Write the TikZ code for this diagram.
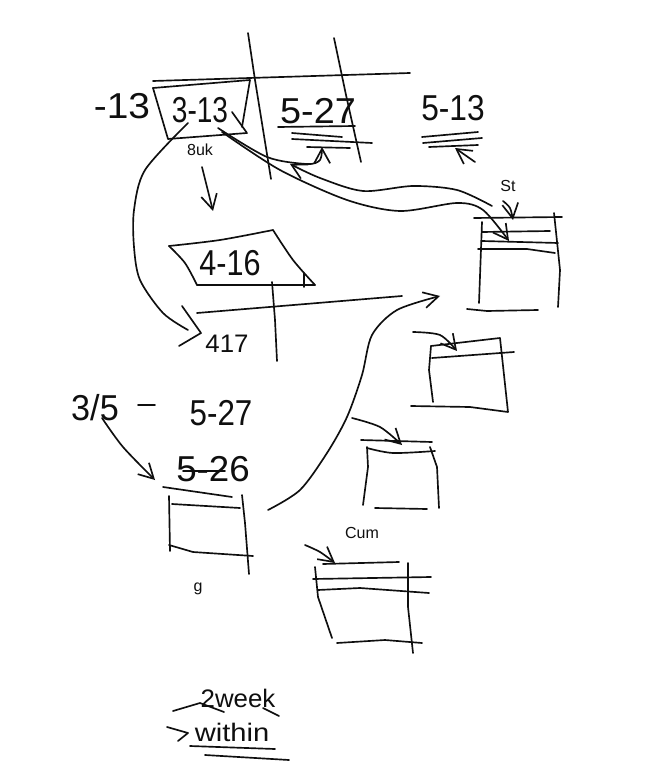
\documentclass[tikz,border=0pt]{standalone}
\usepackage{fontspec}
\setmainfont{Liberation Sans}
\usetikzlibrary{arrows.meta}
\definecolor{inkblack}{RGB}{15,15,15}
\begin{document}
\begin{tikzpicture}[x=0.75pt,y=-0.75pt,
  >={Straight Barb[length=11pt,width=12pt,line width=1.25pt]},
  pen/.style={inkblack,line width=1.25pt,line cap=round,line join=round},
  bigtext/.style={inkblack,font=\fontsize{27}{27}\selectfont,transform shape,inner sep=0pt},
  midtext/.style={inkblack,font=\fontsize{19}{19}\selectfont,transform shape,inner sep=0pt},
  smalltext/.style={inkblack,font=\fontsize{12}{12}\selectfont,inner sep=0pt}]
\useasboundingbox (0,0) rectangle (665,784);
% ends of the arrows
\coordinate (sunstart) at (188,123);
\coordinate (downstart) at (202,167);
\coordinate (downend) at (213,211);
\coordinate (firstend) at (322,147);
\coordinate (firststart) at (218,128);
\coordinate (secondend) at (509,241);
\coordinate (secondstart) at (222,132);
\coordinate (backend) at (290,164);
\coordinate (backstart) at (492,206);
\coordinate (stend) at (513,220);
\coordinate (stendstart) at (503,201);
\coordinate (lowend) at (475,162);
\coordinate (lowtip) at (455,148);
\coordinate (bendend) at (440,296);
\coordinate (bendstart) at (268,510);
\coordinate (wideend) at (201,333);
% top table
\draw[pen] (153,81) -- (410,73);
\draw[pen] (248,33) -- (255,80) -- (271,179);
\draw[pen] (334,38) -- (346,95) -- (361,162);
\node[bigtext,xscale=1.08] (minus) at (122,106) {-13};
\draw[pen] (153,88) -- (250,80) -- (242,127);
\draw[pen] (232,112) -- (247,133) -- (168,139) -- (153,88);
\node[bigtext,xscale=.78] (first) at (200,110) {3-13};
\node[smalltext] (sun) at (200,150) {8uk};
\node[bigtext,xscale=1.05] (second) at (318,111) {5-27};
\draw[pen] (278,127) -- (355,126);
\draw[pen] (292,133) -- (342,137);
\draw[pen] (292,139) -- (372,143);
\draw[pen] (307,147) -- (350,148);
\node[bigtext,xscale=.88] (third) at (453,108) {5-13};
\draw[pen] (422,137) -- (478,132);
\draw[pen] (423,143) -- (482,138);
\draw[pen] (429,147) -- (478,145);
\draw[pen,->] (lowend) -- (lowtip);
\draw[pen,->] plot[smooth] coordinates {(downstart) (207,187) (downend)};
\draw[pen,->] plot[smooth] coordinates {(firststart) (267,157) (307,164) (320,160) (firstend)};
\draw[pen,->] plot[smooth] coordinates {(secondstart) (280,170) (347,200) (400,211) (457,203) (483,210) (secondend)};
\draw[pen,->] plot[smooth] coordinates {(backstart) (457,190) (413,186) (363,191) (320,178) (backend)};
% right table
\node[smalltext] (st) at (508,186) {St};
\draw[pen,->] plot[smooth] coordinates {(stendstart) (510,208) (stend)};
\draw[pen] (474,218) -- (562,217);
\draw[pen] (482,222) -- (479,303);
\draw[pen] (554,213) -- (560,270) -- (558,307);
\draw[pen] (482,232) -- (550,231);
\draw[pen] (482,241) -- (558,243);
\draw[pen] (478,249) -- (527,249) -- (555,253);
\draw[pen] (467,309) -- (487,311) -- (538,310);
% middle box
\draw[pen] plot[smooth] coordinates {(169,246) (220,240) (273,230)};
\draw[pen] plot[smooth] coordinates {(273,230) (293,260) (315,285)};
\draw[pen] (315,285) -- (197,285);
\draw[pen] plot[smooth] coordinates {(197,285) (185,263) (169,246)};
\draw[pen] (304,273) -- (304,287);
\node[bigtext,xscale=.85] (fourth) at (230,263) {4-16};
\draw[pen] (197,313) -- (402,296);
\draw[pen] (272,282) -- (275,320) -- (277,361);
\node[midtext,xscale=1.02] (fifth) at (227,344) {417};
\draw[pen] plot[smooth] coordinates {(sunstart) (145,170) (134,210) (134,247) (140,280) (163,313) (188,330)};
\draw[pen] (182,306) -- (wideend) -- (179,346);
% tables on the right
\draw[pen,->] plot[smooth] coordinates {(bendstart) (300,490) (327,453) (347,417) (362,375) (372,335) (397,310) (bendend)};
\draw[pen] (431,346) -- (500,338) -- (508,412) -- (470,407) -- (411,406);
\draw[pen] (431,346) -- (429,370) -- (433,402);
\draw[pen] (432,358) -- (514,352);
\draw[pen,->] plot[smooth] coordinates {(413,332) (440,335) (457,351)};
\draw[pen] (361,440) -- (432,442);
\draw[pen] plot[smooth] coordinates {(367,448) (393,453) (435,451)};
\draw[pen] (367,447) -- (368,467) -- (363,505);
\draw[pen] (430,447) -- (437,467) -- (439,508);
\draw[pen] (375,508) -- (427,509);
\draw[pen,->] plot[smooth] coordinates {(352,418) (380,427) (402,445)};
\node[smalltext] (cum) at (362,533) {Cum};
\draw[pen,->] plot[smooth] coordinates {(305,545) (320,552) (335,563)};
\draw[pen] (323,564) -- (399,562);
\draw[pen] (313,579) -- (431,577);
\draw[pen] (318,590) -- (360,588) -- (429,593);
\draw[pen] (315,567) -- (318,597) -- (332,638);
\draw[pen] (408,563) -- (408,607) -- (413,653);
\draw[pen] (337,643) -- (385,640) -- (422,643);
% lower left table
\node[bigtext,xscale=.95] (sixth) at (95,408) {3/5};
\draw[pen] (138,405) -- (155,405);
\node[bigtext,xscale=.87] (seventh) at (221,413) {5-27};
\draw[pen,->] plot[smooth] coordinates {(102,418) (123,447) (155,480)};
\node[bigtext,xscale=1.02] (eighth) at (213,469) {5-26};
\draw[pen] (183,471) -- (225,471);
\draw[pen] (163,487) -- (232,497);
\draw[pen] (169,496) -- (170,551);
\draw[pen] (242,495) -- (245,523) -- (249,574);
\draw[pen] (172,504) -- (240,508);
\draw[pen] (169,545) -- (193,552) -- (253,556);
\node[smalltext] (gee) at (198,589) {g};
% bottom note
\node[midtext,xscale=1.02] (week) at (238,698) {2week};
\draw[pen] (173,711) -- (200,703) -- (224,712);
\draw[pen] (263,708) -- (279,716);
\draw[pen] (167,727) -- (188,733) -- (178,741);
\node[midtext,xscale=1.15] (within) at (232,732) {within};
\draw[pen] (190,746) -- (275,749);
\draw[pen] (205,755) -- (289,760);
\end{tikzpicture}
\end{document}
